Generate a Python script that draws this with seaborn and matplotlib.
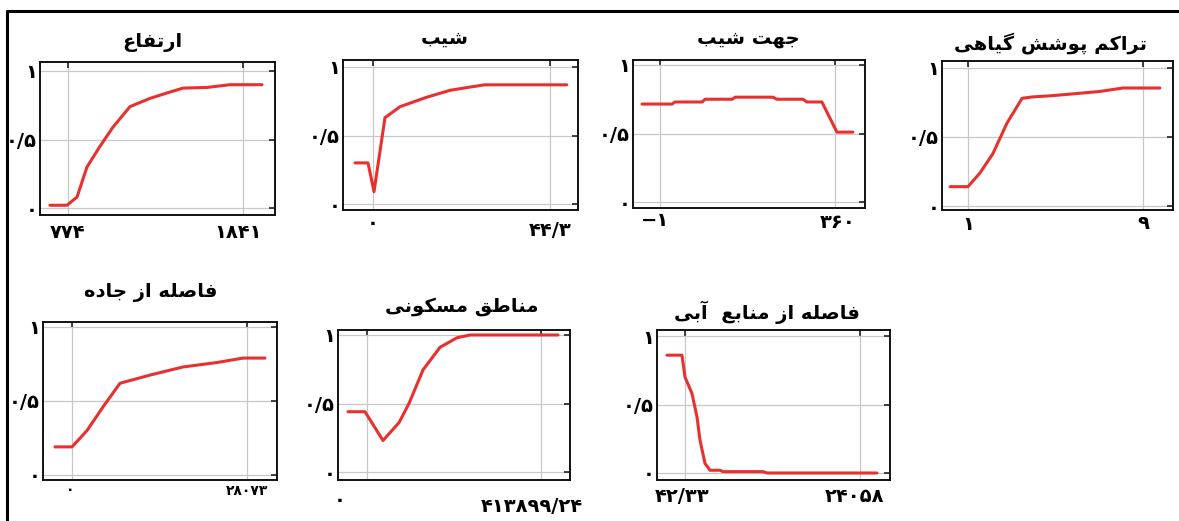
import matplotlib
matplotlib.use('Agg')
import matplotlib.pyplot as plt
import seaborn as sns
import pandas as pd
from matplotlib.lines import Line2D

# ---- data ----
titles = ['ارتفاع', 'شیب', 'جهت شیب', 'تراکم پوشش گیاهی',
          'فاصله از جاده', 'مناطق مسکونی', 'فاصله از منابع  آبی']

elev_x = [664, 768, 829, 890, 969, 1048, 1152, 1274, 1378, 1475, 1621, 1762, 1957]
elev_y = [0.02, 0.02, 0.08, 0.30, 0.45, 0.59, 0.74, 0.80, 0.84, 0.875, 0.88, 0.90, 0.90]

slope_x = [-4.5, -1.25, 0.25, 3, 6.75, 13.5, 19.3, 23.5, 28, 48.5]
slope_y = [0.30, 0.30, 0.09, 0.63, 0.71, 0.78, 0.83, 0.85, 0.87, 0.87]

aspect_x = [-38, 24, 30, 86, 92, 148, 154, 232, 240, 294, 302, 333, 364, 397]
aspect_y = [0.715, 0.715, 0.73, 0.73, 0.75, 0.75, 0.765, 0.765, 0.75, 0.75, 0.73, 0.73, 0.51, 0.51]

ndvi_x = [0.18, 1, 1.55, 2.14, 2.78, 3.47, 3.92, 4.88, 5.97, 7.03, 8.08, 9.77]
ndvi_y = [0.14, 0.14, 0.24, 0.38, 0.60, 0.78, 0.79, 0.80, 0.815, 0.83, 0.855, 0.855]

road_x = [-2727, 0, 2406, 4972, 7699, 12511, 17804, 23258, 27431, 30960]
road_y = [0.19, 0.19, 0.30, 0.46, 0.62, 0.675, 0.73, 0.76, 0.79, 0.79]

urban_x = [-45195, -4757, 38059, 76119, 99906, 133207, 173645, 214083, 245007, 454331]
urban_y = [0.44, 0.44, 0.23, 0.36, 0.50, 0.745, 0.91, 0.98, 1.0, 1.0]

water_x = [-2428, -369, 42, 1003, 1689, 2100, 2786, 3472, 4844, 5256, 10744, 11293, 26385]
water_y = [0.86, 0.86, 0.70, 0.58, 0.41, 0.24, 0.07, 0.02, 0.02, 0.01, 0.01, 0.0, 0.0]

x_ticks = [(774, 1841), (0, 44.3), (-1, 360), (1, 9), (0, 28073), (0, 413899.24), (42.33, 24058)]
x_ticklabels = [('774', '1841'), ('0', '44/3'), ('−1', '360'), ('1', '9'),
                ('0', '28073'), ('0', '413899/24'), ('42/33', '24058')]
y_ticks = [0, 0.5, 1]
y_ticklabels = ['0', '0/5', '1']

series = [(elev_x, elev_y), (slope_x, slope_y), (aspect_x, aspect_y), (ndvi_x, ndvi_y),
          (road_x, road_y), (urban_x, urban_y), (water_x, water_y)]

# ---- persian shaping (matplotlib has no arabic joining) ----
FORMS = {  # isolated, final, initial, medial
    'ا': ('\uFE8D', '\uFE8E'), 'آ': ('\uFE81', '\uFE82'), 'د': ('\uFEA9', '\uFEAA'),
    'ر': ('\uFEAD', '\uFEAE'), 'ز': ('\uFEAF', '\uFEB0'), 'و': ('\uFEED', '\uFEEE'),
    'ب': ('\uFE8F', '\uFE90', '\uFE91', '\uFE92'), 'پ': ('\uFB56', '\uFB57', '\uFB58', '\uFB59'),
    'ت': ('\uFE95', '\uFE96', '\uFE97', '\uFE98'), 'ج': ('\uFE9D', '\uFE9E', '\uFE9F', '\uFEA0'),
    'س': ('\uFEB1', '\uFEB2', '\uFEB3', '\uFEB4'), 'ش': ('\uFEB5', '\uFEB6', '\uFEB7', '\uFEB8'),
    'ص': ('\uFEB9', '\uFEBA', '\uFEBB', '\uFEBC'), 'ط': ('\uFEC1', '\uFEC2', '\uFEC3', '\uFEC4'),
    'ع': ('\uFEC9', '\uFECA', '\uFECB', '\uFECC'), 'ف': ('\uFED1', '\uFED2', '\uFED3', '\uFED4'),
    'ق': ('\uFED5', '\uFED6', '\uFED7', '\uFED8'), 'ک': ('\uFB8E', '\uFB8F', '\uFB90', '\uFB91'),
    'گ': ('\uFB92', '\uFB93', '\uFB94', '\uFB95'), 'ل': ('\uFEDD', '\uFEDE', '\uFEDF', '\uFEE0'),
    'م': ('\uFEE1', '\uFEE2', '\uFEE3', '\uFEE4'), 'ن': ('\uFEE5', '\uFEE6', '\uFEE7', '\uFEE8'),
    'ه': ('\uFEE9', '\uFEEA', '\uFEEB', '\uFEEC'), 'ی': ('\uFBFC', '\uFBFD', '\uFBFE', '\uFBFF'),
}


def shape(txt):
    out = []
    for i, c in enumerate(txt):
        if c not in FORMS:
            out.append(c)
            continue
        prev = txt[i - 1] if i > 0 else ''
        nxt = txt[i + 1] if i + 1 < len(txt) else ''
        jp = prev in FORMS and len(FORMS[prev]) == 4
        jn = len(FORMS[c]) == 4 and nxt in FORMS
        f = FORMS[c]
        if jp and jn:
            out.append(f[3])
        elif jp:
            out.append(f[1])
        elif jn:
            out.append(f[2])
        else:
            out.append(f[0])
    return ''.join(out[::-1])


def fa_digits(s):
    return s.translate(str.maketrans('0123456789', '۰۱۲۳۴۵۶۷۸۹'))


# ---- layout (pixels in the 1179x521 picture) ----
W, H = 1179, 521
# box l, t, r, b ; y=1 px, y=0 px ; x tick px a, b
boxes = [
    (40, 62, 275, 215, 71, 208, 68, 243),
    (343, 60, 578, 210, 67, 204, 373, 550),
    (633, 60, 865, 208, 65, 202, 660, 835),
    (942, 61, 1173, 210, 68, 206, 968, 1143),
    (43, 322, 277, 480, 327, 475, 72, 247),
    (338, 330, 570, 480, 335, 472, 367, 541),
    (657, 330, 890, 480, 336, 473, 685, 860),
]
title_pos = [(152, 43), (445, 38), (748, 38), (1050, 43), (151, 293), (462, 307), (767, 312)]
xlab_pos = [((68, 233), (238, 233)), ((373, 224), (550, 230)), ((655, 221), (838, 222)),
            ((968, 225), (1143, 224)), ((70, 490), (247, 491)), ((340, 500), (532, 507)),
            ((682, 497), (855, 497))]
xlab_size = [14, 14, 14, 14, 10, 14, 14]

sns.set_style('white')
plt.rcParams['font.family'] = ['DejaVu Sans']
plt.rcParams['text.color'] = 'black'
plt.rcParams['xtick.color'] = 'black'
plt.rcParams['ytick.color'] = 'black'
fig = plt.figure(figsize=(W / 100, H / 100), dpi=100)

for i, (xs, ys) in enumerate(series):
    l, t, r, b, y1p, y0p, xa, xb = boxes[i]
    ax = fig.add_axes([l / W, 1 - b / H, (r - l) / W, (b - t) / H])
    df = pd.DataFrame({'x': xs, 'y': ys})
    sns.lineplot(data=df, x='x', y='y', ax=ax, color='#e8302f', linewidth=2.2,
                 estimator=None, sort=False)
    va, vb = x_ticks[i]
    sx = (vb - va) / (xb - xa)
    ax.set_xlim(va - (xa - l) * sx, vb + (r - xb) * sx)
    sy = 1 / (y0p - y1p)
    ax.set_ylim(-(b - y0p) * sy, 1 + (y1p - t) * sy)
    ax.set_xticks([va, vb])
    ax.set_yticks(y_ticks)
    ax.set_yticklabels([fa_digits(s) for s in y_ticklabels], fontsize=14, fontweight='bold',
                       color='black')
    ax.tick_params(direction='in', length=4, width=1.2, top=True, right=True,
                   labelbottom=False, pad=2, color='#222222')
    ax.grid(True, color='#c8c8c8', linewidth=0.9)
    ax.set_xlabel('')
    ax.set_ylabel('')
    for sp in ax.spines.values():
        sp.set_color('#111111')
        sp.set_linewidth(1.4)
    tx, ty = title_pos[i]
    fig.text(tx / W, 1 - ty / H, shape(titles[i]), ha='center', va='center',
             fontsize=14, fontweight='bold', color='black')
    for lab, (px, py) in zip(x_ticklabels[i], xlab_pos[i]):
        fig.text(px / W, 1 - py / H, fa_digits(lab), ha='center', va='center',
                 fontsize=xlab_size[i], fontweight='bold', color='black')

# frame lines of the original figure
fig.add_artist(Line2D([7 / W, 7 / W], [0, 1 - 11 / H], color='black', linewidth=2.2))
fig.add_artist(Line2D([7 / W, 1], [1 - 11 / H, 1 - 11 / H], color='black', linewidth=2.2))

fig.savefig('out.png', dpi=100, facecolor='white')
